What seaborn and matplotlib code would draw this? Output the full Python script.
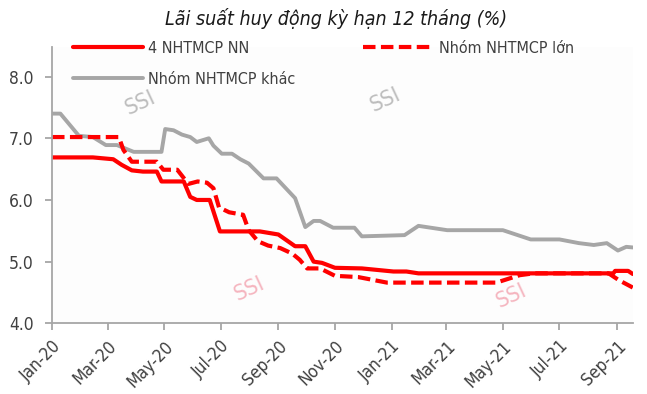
import pandas as pd
import numpy as np
import matplotlib
matplotlib.use("Agg")
import matplotlib.pyplot as plt
import matplotlib.dates as mdates
from matplotlib import font_manager
import seaborn as sns

# ================= Data =================
nn_dates = ["2020-01-01", "2020-02-14", "2020-03-07", "2020-03-16", "2020-03-27",
            "2020-04-08", "2020-04-23", "2020-04-28", "2020-05-22", "2020-05-29",
            "2020-06-05", "2020-06-19", "2020-06-30", "2020-08-12", "2020-09-01",
            "2020-09-19", "2020-09-30", "2020-10-09", "2020-10-18", "2020-11-01",
            "2020-11-30", "2021-01-03", "2021-01-17", "2021-01-30", "2021-08-28",
            "2021-08-30", "2021-09-13", "2021-09-18"]
nn_values = [6.69, 6.69, 6.66, 6.57, 6.48,
             6.46, 6.46, 6.30, 6.30, 6.05,
             6.00, 6.00, 5.49, 5.49, 5.44,
             5.25, 5.25, 5.00, 4.98, 4.90,
             4.89, 4.84, 4.84, 4.81, 4.81,
             4.85, 4.85, 4.80]

lon_dates = ["2020-01-01", "2020-03-13", "2020-03-18", "2020-03-27", "2020-04-23",
             "2020-04-30", "2020-05-15", "2020-05-27", "2020-06-06", "2020-06-16",
             "2020-06-23", "2020-06-29", "2020-07-10", "2020-07-25", "2020-07-31",
             "2020-08-10", "2020-08-21", "2020-09-03", "2020-09-16", "2020-09-24",
             "2020-10-02", "2020-10-16", "2020-11-01", "2020-11-26", "2020-12-27",
             "2021-04-24", "2021-05-19", "2021-06-03", "2021-08-23", "2021-09-03",
             "2021-09-18"]
lon_values = [7.02, 7.02, 6.81, 6.62, 6.62,
              6.49, 6.49, 6.26, 6.30, 6.28,
              6.19, 5.88, 5.80, 5.76, 5.51,
              5.33, 5.26, 5.22, 5.13, 5.03,
              4.89, 4.89, 4.77, 4.75, 4.66,
              4.66, 4.78, 4.81, 4.81, 4.70,
              4.58]

khac_dates = ["2020-01-01", "2020-01-10", "2020-01-30", "2020-02-14", "2020-02-28",
              "2020-03-11", "2020-03-29", "2020-04-28", "2020-05-02", "2020-05-11",
              "2020-05-20", "2020-05-29", "2020-06-05", "2020-06-18", "2020-06-23",
              "2020-07-02", "2020-07-13", "2020-07-22", "2020-07-31", "2020-08-16",
              "2020-08-30", "2020-09-19", "2020-09-30", "2020-10-09", "2020-10-16",
              "2020-10-30", "2020-11-22", "2020-11-30", "2021-01-15", "2021-01-30",
              "2021-03-02", "2021-05-01", "2021-05-31", "2021-07-01", "2021-07-22",
              "2021-08-07", "2021-08-21", "2021-09-02", "2021-09-11", "2021-09-18"]
khac_values = [7.40, 7.40, 7.04, 7.02, 6.89,
               6.89, 6.78, 6.78, 7.15, 7.13,
               7.06, 7.02, 6.94, 7.00, 6.88,
               6.75, 6.75, 6.66, 6.59, 6.35,
               6.35, 6.03, 5.56, 5.66, 5.66,
               5.55, 5.55, 5.41, 5.43, 5.58,
               5.51, 5.51, 5.36, 5.36, 5.30,
               5.27, 5.30, 5.18, 5.24, 5.23]

labels = ["4 NHTMCP NN", "Nhóm NHTMCP lớn", "Nhóm NHTMCP khác"]
title = "Lãi suất huy động kỳ hạn 12 tháng (%)"
y_ticks = [4.0, 5.0, 6.0, 7.0, 8.0]

# ================= Styling =================
sns.set_style("white")
# use a condensed face if one happens to be installed (reference uses Arial Narrow)
cond = [f for f in font_manager.fontManager.ttflist
        if 'Narrow' in f.name or 'Condensed' in f.name or 'condensed' in str(f.stretch)]
FONT = cond[0].name if cond else 'Liberation Sans'
STRETCH = cond[0].stretch if cond else 'normal'
plt.rcParams['font.family'] = [FONT, 'DejaVu Sans']
plt.rcParams['font.stretch'] = STRETCH
TXT = '#404040'
AXC = '#a6a6a6'
fs = 10.5 if not cond else 11.5
tick_fs = 11.5 if not cond else 12.5

fig = plt.figure(figsize=(6.47, 3.94), dpi=100)
ax = fig.add_axes([0.0804, 0.1794, 0.8976, 0.7013])
ax.set_facecolor('#fdfdfd')

df_nn = pd.DataFrame({'date': pd.to_datetime(nn_dates), 'value': nn_values})
df_lon = pd.DataFrame({'date': pd.to_datetime(lon_dates), 'value': lon_values})
df_khac = pd.DataFrame({'date': pd.to_datetime(khac_dates), 'value': khac_values})

sns.lineplot(data=df_khac, x='date', y='value', ax=ax, color='#a6a6a6', linewidth=2.8,
             label=labels[2])
sns.lineplot(data=df_lon, x='date', y='value', ax=ax, color='#ff0000', linewidth=3.0,
             label=labels[1])
sns.lineplot(data=df_nn, x='date', y='value', ax=ax, color='#ff0000', linewidth=3.0,
             label=labels[0])
ax.lines[1].set_dashes((3, 1.3))
ax.lines[1].set_dash_capstyle('butt')

# Watermarks
for (xd, yv, c) in [("2020-04-05", 7.58, '#bdbdbd'), ("2020-12-25", 7.62, '#bdbdbd'),
                    ("2020-08-01", 4.55, '#f5b5bf'), ("2021-05-10", 4.45, '#f5b5bf')]:
    ax.text(pd.Timestamp(xd), yv, "SSI", color=c, fontsize=16, rotation=25,
            ha='center', va='center', zorder=0)

# Axes
ax.set_ylim(4.0, 8.48)
ax.set_xlim(pd.Timestamp("2020-01-01"), pd.Timestamp("2021-09-18"))
ax.set_yticks(y_ticks)
ax.set_yticklabels([f"{v:.1f}" for v in y_ticks])
ax.xaxis.set_major_locator(mdates.MonthLocator(bymonth=[1, 3, 5, 7, 9, 11]))
ax.xaxis.set_major_formatter(mdates.DateFormatter('%b-%y'))
ax.set_xlabel('')
ax.set_ylabel('')
for s in ['top', 'right']:
    ax.spines[s].set_visible(False)
for s in ['left', 'bottom']:
    ax.spines[s].set_color(AXC)
    ax.spines[s].set_linewidth(1.3)
ax.tick_params(axis='both', which='major', direction='out', length=5, width=1.3,
               color=AXC, labelcolor=TXT, labelsize=tick_fs, left=True, bottom=True)
ax.tick_params(axis='y', pad=8)
ax.tick_params(axis='x', pad=5)
for lab in ax.get_xticklabels():
    lab.set_rotation(45)
    lab.set_ha('right')
    lab.set_rotation_mode('anchor')

# Legend
h, l = ax.get_legend_handles_labels()
order = [l.index(labels[0]), l.index(labels[2]), l.index(labels[1])]
ax.legend([h[i] for i in order], [l[i] for i in order], ncol=2, frameon=False,
          loc='upper left', bbox_to_anchor=(0.011, 1.075), fontsize=fs,
          handlelength=4.4, handletextpad=0.33, columnspacing=4.25, labelspacing=1.0,
          labelcolor=TXT)

fig.text(0.52, 0.953, title, ha='center', va='center', fontsize=14,
         style='italic', color='#1a1a1a')

fig.savefig("out.png", dpi=100)
